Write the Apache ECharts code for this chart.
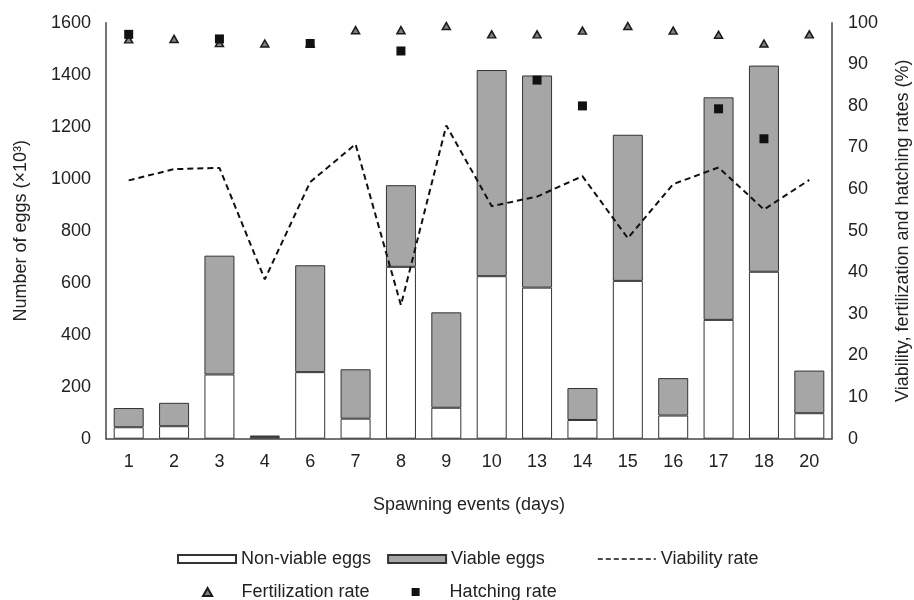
<!DOCTYPE html>
<html>
<head>
<meta charset="utf-8">
<script src="https://cdn.jsdelivr.net/npm/echarts@6/dist/echarts.min.js"></script>
<style>
  html, body { margin: 0; padding: 0; background: #ffffff; }
  #chart { width: 914px; height: 600px; }
</style>
</head>
<body>
<div id="chart"></div>
<script>
// Spawning events (days)
const categories = ['1', '2', '3', '4', '6', '7', '8', '9', '10', '13', '14', '15', '16', '17', '18', '20'];

// Number of eggs (×10³)
const nonViableEggs = [44, 48, 247, 7, 256, 77, 661, 119, 625, 581, 72, 607, 89, 457, 642, 98];
const viableEggs    = [74, 90, 457, 5, 411, 190, 314, 367, 793, 816, 123, 562, 144, 856, 793, 164];

// Rates (%)
const viabilityRate     = [62.1, 64.8, 65.1, 38.3, 61.7, 70.8, 32.1, 75.3, 55.9, 58.2, 63.1, 48.2, 61.2, 65.2, 55.1, 62.2];
const fertilizationRate = [96.0, 96.1, 95.1, 95.0, 95.0, 98.2, 98.2, 99.2, 97.2, 97.2, 98.1, 99.2, 98.1, 97.1, 95.0, 97.2];
const hatchingRate      = [97.2, null, 96.1, null, 95.0, null, 93.2, null, null, 86.2, 80.0, null, null, 79.3, 72.1, null];

// Axis ticks
const eggTicks = { min: 0, max: 1600, interval: 200 };
const rateTicks = { min: 0, max: 100, interval: 10 };

const FONT = '"Liberation Sans", Arial, sans-serif';
const TEXT = '#222222';
const AXIS = '#444444';

// Legend glyphs for the marker series
const TRIANGLE_ICON = 'path://M0,7L4,0L8,7Z';
const SQUARE_ICON = 'path://M0,0L8,0L8,8L0,8Z';

const chart = echarts.init(document.getElementById('chart'), null, { renderer: 'canvas' });

const legendBase = {
  orient: 'horizontal',
  itemWidth: 58,
  itemHeight: 8,
  itemGap: 16,
  symbolKeepAspect: true,
  selectedMode: false,
  padding: 0,
  textStyle: { fontFamily: FONT, fontSize: 18, color: TEXT }
};

const plainNumber = v => String(v);

chart.setOption({
  animation: false,
  backgroundColor: '#ffffff',
  textStyle: { fontFamily: FONT },
  grid: {
    left: 106, right: 82, top: 22.7, bottom: 161.3,
    containLabel: false,
    outerBoundsMode: 'none'
  },
  legend: [
    Object.assign({}, legendBase, {
      left: 177, top: 550,
      data: [
        { name: 'Non-viable eggs', icon: 'rect' },
        { name: 'Viable eggs', icon: 'rect' }
      ]
    }),
    Object.assign({}, legendBase, {
      left: 597, top: 550,
      data: [{
        name: 'Viability rate',
        itemStyle: { opacity: 0 },
        lineStyle: { color: '#111111', width: 1.6, type: [5, 3] }
      }]
    }),
    Object.assign({}, legendBase, {
      left: 202, top: 583,
      itemGap: 42,
      data: [
        { name: 'Fertilization rate', icon: TRIANGLE_ICON },
        { name: 'Hatching rate', icon: SQUARE_ICON }
      ]
    })
  ],
  xAxis: {
    type: 'category',
    data: categories,
    axisLine: { show: true, lineStyle: { color: AXIS, width: 1.5 } },
    axisTick: { show: false },
    axisLabel: { fontFamily: FONT, fontSize: 18, color: TEXT, margin: 14 },
    splitLine: { show: false },
    name: 'Spawning events (days)',
    nameLocation: 'middle',
    nameGap: 57,
    nameTextStyle: { fontFamily: FONT, fontSize: 18, color: TEXT }
  },
  yAxis: [
    {
      type: 'value',
      position: 'left',
      min: eggTicks.min, max: eggTicks.max, interval: eggTicks.interval,
      axisLine: { show: true, lineStyle: { color: AXIS, width: 1.5 } },
      axisTick: { show: false },
      splitLine: { show: false },
      axisLabel: { fontFamily: FONT, fontSize: 18, color: TEXT, margin: 15, formatter: plainNumber },
      name: 'Number of eggs (×10³)',
      nameLocation: 'middle',
      nameRotate: 90,
      nameGap: 76,
      nameTextStyle: { fontFamily: FONT, fontSize: 18, color: TEXT }
    },
    {
      type: 'value',
      position: 'right',
      min: rateTicks.min, max: rateTicks.max, interval: rateTicks.interval,
      axisLine: { show: true, lineStyle: { color: AXIS, width: 1.5 } },
      axisTick: { show: false },
      splitLine: { show: false },
      axisLabel: { fontFamily: FONT, fontSize: 18, color: TEXT, margin: 16, formatter: plainNumber },
      name: 'Viability, fertilization and hatching rates (%)',
      nameLocation: 'middle',
      nameRotate: 90,
      nameGap: 62,
      nameTextStyle: { fontFamily: FONT, fontSize: 18, color: TEXT }
    }
  ],
  series: [
    {
      name: 'Non-viable eggs',
      type: 'bar',
      stack: 'eggs',
      barWidth: 30,
      data: nonViableEggs,
      itemStyle: { color: '#ffffff', borderColor: '#333333', borderWidth: 1 }
    },
    {
      name: 'Viable eggs',
      type: 'bar',
      stack: 'eggs',
      barWidth: 30,
      data: viableEggs,
      itemStyle: { color: '#a6a6a6', borderColor: '#333333', borderWidth: 1 }
    },
    {
      name: 'Viability rate',
      type: 'line',
      yAxisIndex: 1,
      data: viabilityRate,
      symbol: 'none',
      z: 3,
      lineStyle: { color: '#111111', width: 2, type: [6, 4] },
      itemStyle: { color: '#111111' }
    },
    {
      name: 'Fertilization rate',
      type: 'scatter',
      yAxisIndex: 1,
      data: fertilizationRate,
      symbol: 'triangle',
      symbolSize: [8, 7],
      z: 4,
      itemStyle: { color: '#7f7f7f', borderColor: '#1a1a1a', borderWidth: 1.5, opacity: 1 }
    },
    {
      name: 'Hatching rate',
      type: 'scatter',
      yAxisIndex: 1,
      data: hatchingRate,
      symbol: 'rect',
      symbolSize: 9,
      z: 5,
      itemStyle: { color: '#111111', opacity: 1 }
    }
  ]
});
</script>
</body>
</html>
